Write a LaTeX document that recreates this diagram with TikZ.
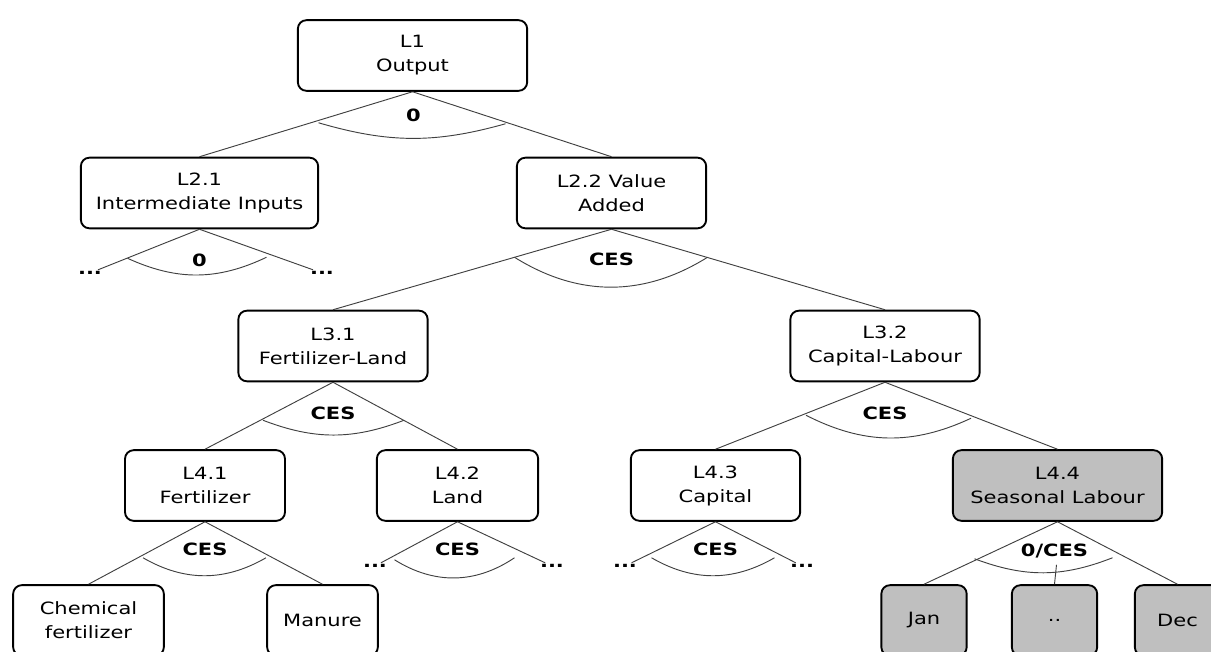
\documentclass[tikz,border=0pt]{standalone}
\usepackage{fontspec}
\setmainfont{DejaVu Sans}[FakeStretch=1.24]
\usetikzlibrary{calc}
\newcommand{\nestfont}{\fontsize{12.7}{18}\selectfont}
\colorlet{lineColor}{black!75}
\colorlet{seasonColor}{black!25}
\tikzstyle{nest}=[rectangle, rounded corners=6.5pt, align=center, draw=black,
line width=1.4pt, minimum height=53pt, fill=white, inner sep=2pt]
\tikzstyle{nestGrey}=[nest, fill=seasonColor]
\tikzstyle{link}=[draw=lineColor, line width=0.7pt]
\tikzstyle{elas}=[font=\nestfont\bfseries, inner sep=0pt]
\tikzstyle{more}=[font=\nestfont\bfseries, inner sep=1pt]

\begin{document}
\begin{tikzpicture}[x=0.75pt, y=-0.75pt, font=\nestfont]
      \useasboundingbox (0,0) rectangle (1211,652);
      \clip (0,0) rectangle (1211,652);
      % nesting levels
      \node(l1) [nest, minimum width=172pt] at (412.5,55.5) {L1\\Output};
      \node(l21) [nest, minimum width=178pt] at (199.5,193) {L2.1\\Intermediate Inputs};
      \node(l22) [nest, minimum width=142pt] at (611.5,193) {L2.2 Value\\Added};
      \node(l31) [nest, minimum width=142pt] at (333,346) {L3.1\\Fertilizer-Land};
      \node(l32) [nest, minimum width=142pt] at (885,346) {L3.2\\Capital-Labour};
      \node(l41) [nest, minimum width=120pt] at (205,485.5) {L4.1\\Fertilizer};
      \node(l42) [nest, minimum width=121pt] at (457.5,485.5) {L4.2\\Land};
      \node(l43) [nest, minimum width=127pt] at (715.5,485.5) {L4.3\\Capital};
      \node(l44) [nestGrey, minimum width=157pt] at (1057.5,485.5) {L4.4\\Seasonal Labour};
      \node(chem) [nest, minimum width=113pt] at (88.5,620.5) {Chemical\\fertilizer};
      \node(manure) [nest, minimum width=83pt] at (322.5,620.5) {Manure};
      \node(jan) [nestGrey, minimum width=64pt] at (924,620.5) {Jan};
      \node(mid) [nestGrey, minimum width=64pt] at (1054.5,620.5) {..};
      \node(dec) [nestGrey, minimum width=64pt] at (1177.5,620.5) {Dec};
      % open ends
      \node(d21l) [more] at (90,273) {...};
      \node(d21r) [more] at (322,273) {...};
      \node(d42l) [more] at (375,566) {...};
      \node(d42r) [more] at (552,566) {...};
      \node(d43l) [more] at (625,566) {...};
      \node(d43r) [more] at (802,566) {...};
      \coordinate(l44mid) at ($(l44.south)+(-1,43)$);
      % links
      \draw [link] (l1.south) -- (l21.north);
      \draw [link] (l1.south) -- (l22.north);
      \draw [link] (l21.south) -- (d21l);
      \draw [link] (l21.south) -- (d21r);
      \draw [link] (l22.south) -- (l31.north);
      \draw [link] (l22.south) -- (l32.north);
      \draw [link] (l31.south) -- (l41.north);
      \draw [link] (l31.south) -- (l42.north);
      \draw [link] (l32.south) -- (l43.north);
      \draw [link] (l32.south) -- (l44.north);
      \draw [link] (l41.south) -- (chem.north);
      \draw [link] (l41.south) -- (manure.north);
      \draw [link] (l42.south) -- (d42l);
      \draw [link] (l42.south) -- (d42r);
      \draw [link] (l43.south) -- (d43l);
      \draw [link] (l43.south) -- (d43r);
      \draw [link] (l44.south) -- (jan.north);
      \draw [link] (l44.south) -- (dec.north);
      \draw [link] (l44mid) -- (mid.north);
      % elasticities
      \draw [link] ($(l1.south)+(-94,31)$) to[bend right=16] ($(l1.south)+(93,32)$);
      \node(e1) [elas] at ($(l1.south)+(1,24)$) {0};
      \draw [link] ($(l21.south)+(-72,29)$) to[bend right=25] ($(l21.south)+(67,28)$);
      \node(e21) [elas] at ($(l21.south)+(0,31)$) {0};
      \draw [link] ($(l22.south)+(-97,28)$) to[bend right=32] ($(l22.south)+(96,28)$);
      \node(e22) [elas] at ($(l22.south)+(0,30)$) {CES};
      \draw [link] ($(l31.south)+(-70,38)$) to[bend right=21] ($(l31.south)+(71,38)$);
      \node(e31) [elas] at ($(l31.south)+(0,31)$) {CES};
      \draw [link] ($(l32.south)+(-79,33)$) to[bend right=26] ($(l32.south)+(86,36)$);
      \node(e32) [elas] at ($(l32.south)+(0,31)$) {CES};
      \draw [link] ($(l41.south)+(-62,36)$) to[bend right=30] ($(l41.south)+(61,36)$);
      \node(e41) [elas] at ($(l41.south)+(0,28)$) {CES};
      \draw [link] ($(l42.south)+(-63,38)$) to[bend right=33] ($(l42.south)+(57,36)$);
      \node(e42) [elas] at ($(l42.south)+(0,28)$) {CES};
      \draw [link] ($(l43.south)+(-64,36)$) to[bend right=30] ($(l43.south)+(59,36)$);
      \node(e43) [elas] at ($(l43.south)+(0,28)$) {CES};
      \draw [link] ($(l44.south)+(-83,37)$) to[bend right=21] ($(l44.south)+(55,36)$);
      \node(e44) [elas] at ($(l44.south)+(-3,29)$) {0/CES};
    \end{tikzpicture}
\end{document}
